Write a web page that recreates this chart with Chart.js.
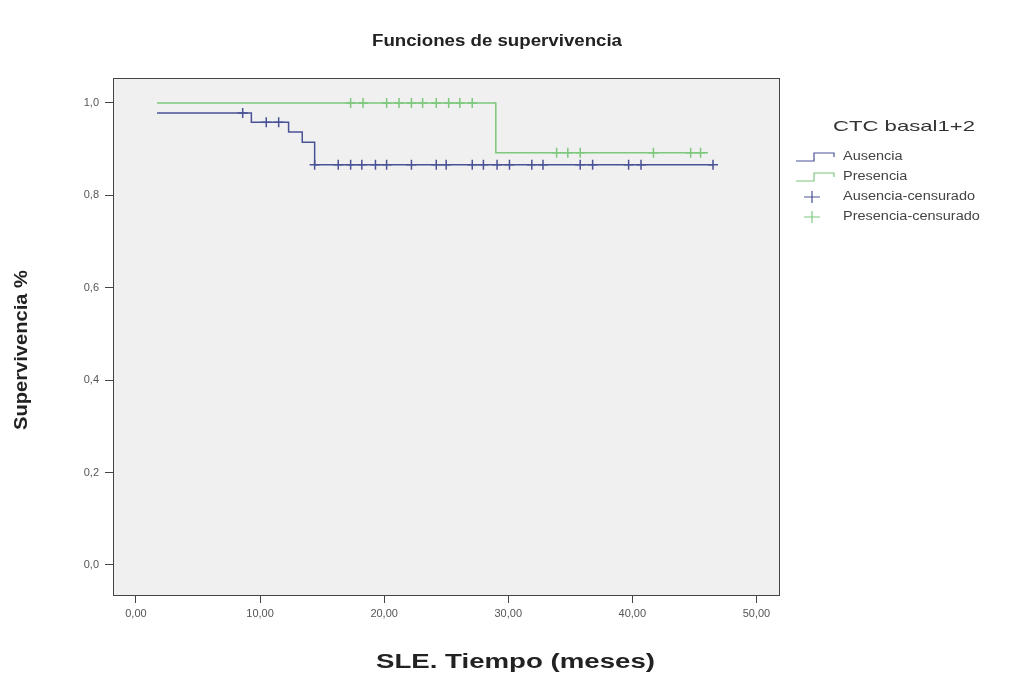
<!DOCTYPE html>
<html>
<head>
<meta charset="utf-8">
<script src="https://cdn.jsdelivr.net/npm/chart.js"></script>
<style>
    body { margin: 0; background: #fff; }
    #kmChart { display: block; }
</style>
</head>
<body>
<canvas id="kmChart" width="1010" height="684"></canvas>
<script>
    // Ausencia (CTC basal1+2 = 0)
    const ausenciaTimes = [1.7, 9.3, 12.3, 13.4, 14.4, 46.5];
    const ausenciaSurv = [0.978, 0.958, 0.937, 0.915, 0.866, 0.866];
    const ausenciaCensored = [8.6, 10.5, 11.5, 14.4, 16.3, 17.3, 18.2, 19.3, 20.2, 22.2, 24.2, 25.0,
        27.1, 28.0, 29.1, 30.1, 31.9, 32.8, 35.8, 36.8, 39.7, 40.7, 46.5];

    // Presencia (CTC basal1+2 = 1)
    const presenciaTimes = [1.7, 29.0, 46.1];
    const presenciaSurv = [1.0, 0.892, 0.892];
    const presenciaCensored = [17.3, 18.3, 20.2, 21.2, 22.2, 23.1, 24.2, 25.2, 26.1, 27.1,
        33.9, 34.8, 35.8, 41.7, 44.7, 45.5];

    const xTicks = [0, 10, 20, 30, 40, 50];
    const yTicks = [0, 0.2, 0.4, 0.6, 0.8, 1.0];

    const blue = '#4a5296';
    const green = '#7cc87c';
    const FONT = '"Liberation Sans", Arial, sans-serif';

    function survAt(times, surv, t) {
        let s = surv[0];
        for (let i = 0; i < times.length; i++) {
            if (times[i] <= t) s = surv[i];
        }
        return s;
    }

    const curve = (times, surv) => times.map((t, i) => ({ x: t, y: surv[i] }));
    const marks = (cens, times, surv) => cens.map(t => ({ x: t, y: survAt(times, surv, t) }));

    const comma = (v, d) => v.toFixed(d).replace('.', ',');

    // draw text stretched horizontally to a given width (reference is stretched)
    function wideText(ctx, text, left, y, width) {
        const w = ctx.measureText(text).width;
        ctx.save();
        ctx.translate(left, y);
        ctx.scale(width / w, 1);
        ctx.textAlign = 'left';
        ctx.fillText(text, 0, 0);
        ctx.restore();
    }

    const decor = {
        id: 'decor',
        beforeDraw(chart) {
            const { ctx, chartArea: a } = chart;
            ctx.save();
            ctx.fillStyle = '#f0f0f0';
            ctx.fillRect(a.left, a.top, a.right - a.left, a.bottom - a.top);
            ctx.restore();
        },
        afterDraw(chart) {
            const { ctx, chartArea: a } = chart;
            ctx.save();
            ctx.strokeStyle = '#444';
            ctx.lineWidth = 1;
            ctx.strokeRect(a.left + 0.5, a.top + 0.5, a.right - a.left - 1, a.bottom - a.top);

            ctx.fillStyle = '#222';
            ctx.textBaseline = 'middle';
            ctx.font = 'bold 16px ' + FONT;
            wideText(ctx, 'Funciones de supervivencia', 372, 42, 250);

            ctx.font = 'bold 20px ' + FONT;
            wideText(ctx, 'SLE. Tiempo (meses)', 376, 662, 279);

            ctx.save();
            ctx.translate(22, 430);
            ctx.rotate(-Math.PI / 2);
            ctx.font = 'bold 18px ' + FONT;
            wideText(ctx, 'Supervivencia %', 0, 0, 160);
            ctx.restore();

            // legend
            ctx.fillStyle = '#333';
            ctx.font = '15px ' + FONT;
            wideText(ctx, 'CTC basal1+2', 833, 127, 142);

            ctx.font = '12px ' + FONT;
            ctx.fillStyle = '#444';
            const k = 132 / ctx.measureText('Ausencia-censurado').width;
            const rows = [
                { label: 'Ausencia', color: blue, step: true, y: 157 },
                { label: 'Presencia', color: green, step: true, y: 177 },
                { label: 'Ausencia-censurado', color: blue, step: false, y: 197 },
                { label: 'Presencia-censurado', color: green, step: false, y: 217 }
            ];
            rows.forEach(r => {
                ctx.strokeStyle = r.color;
                ctx.lineWidth = 1.2;
                ctx.beginPath();
                if (r.step) {
                    ctx.moveTo(796, r.y + 4);
                    ctx.lineTo(814, r.y + 4);
                    ctx.lineTo(814, r.y - 4);
                    ctx.lineTo(834, r.y - 4);
                    ctx.lineTo(834, r.y);
                } else {
                    ctx.moveTo(804, r.y);
                    ctx.lineTo(820, r.y);
                    ctx.moveTo(812, r.y - 6);
                    ctx.lineTo(812, r.y + 6);
                }
                ctx.stroke();
                wideText(ctx, r.label, 843, r.y, ctx.measureText(r.label).width * k);
            });
            ctx.restore();
        }
    };

    const lineDs = (data, color) => ({
        data: data,
        borderColor: color,
        borderWidth: 1.5,
        stepped: 'before',
        pointRadius: 0,
        fill: false
    });

    const censDs = (data, color) => ({
        data: data,
        showLine: false,
        borderColor: color,
        pointStyle: 'cross',
        pointRadius: 5,
        pointBorderWidth: 1.5
    });

    new Chart(document.getElementById('kmChart'), {
        type: 'line',
        data: {
            datasets: [
                lineDs(curve(ausenciaTimes, ausenciaSurv), blue),
                lineDs(curve(presenciaTimes, presenciaSurv), green),
                censDs(marks(ausenciaCensored, ausenciaTimes, ausenciaSurv), blue),
                censDs(marks(presenciaCensored, presenciaTimes, presenciaSurv), green)
            ]
        },
        options: {
            responsive: false,
            animation: false,
            devicePixelRatio: 1,
            layout: { padding: { top: 78, right: 230, left: 0, bottom: 0 } },
            plugins: {
                legend: { display: false },
                title: { display: false },
                tooltip: { enabled: false }
            },
            scales: {
                x: {
                    type: 'linear',
                    min: -1.85,
                    max: 51.9,
                    afterBuildTicks: s => { s.ticks = xTicks.map(v => ({ value: v })); },
                    afterFit: s => { s.height = 89; },
                    ticks: {
                        callback: v => comma(v, 2),
                        color: '#555',
                        font: { size: 11, family: FONT },
                        padding: 4,
                        maxRotation: 0
                    },
                    grid: { drawOnChartArea: false, drawTicks: true, tickLength: 8, color: '#444' },
                    border: { display: false }
                },
                y: {
                    min: -0.065,
                    max: 1.054,
                    afterBuildTicks: s => { s.ticks = yTicks.map(v => ({ value: v })); },
                    afterFit: s => { s.width = 113; },
                    ticks: {
                        callback: v => comma(v, 1),
                        color: '#555',
                        font: { size: 11, family: FONT },
                        padding: 6
                    },
                    grid: { drawOnChartArea: false, drawTicks: true, tickLength: 8, color: '#444' },
                    border: { display: false }
                }
            }
        },
        plugins: [decor]
    });
</script>
</body>
</html>
